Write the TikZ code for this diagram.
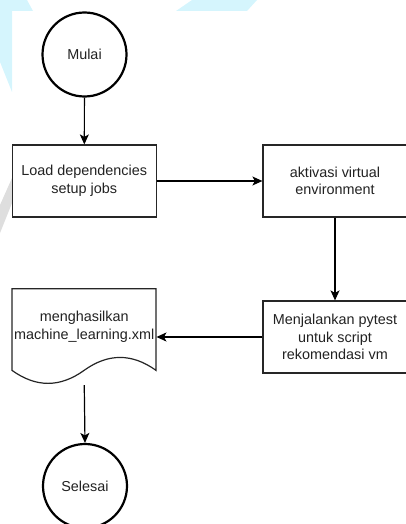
\documentclass[tikz,border=0pt]{standalone}
\usepackage{fontspec}
\setmainfont{Liberation Sans}
\usetikzlibrary{arrows.meta}
\definecolor{marklight}{RGB}{213,245,253}
\definecolor{markgrey}{RGB}{222,222,222}
\definecolor{inktext}{RGB}{34,34,34}
\tikzset{
  base/.style={font=\fontsize{14.4}{17.5}\selectfont, text=inktext, align=center, inner sep=0pt},
  terminal/.style={base, circle, draw=black, line width=2.2pt, fill=white, minimum size=84pt},
  process/.style={base, rectangle, draw=black!85, line width=1.2pt, fill=white,
                  minimum width=144pt, minimum height=72pt},
  docarea/.style={base, rectangle, minimum width=144pt, minimum height=96pt},
  flow/.style={line width=1.2pt, -{Stealth[length=10pt,width=9pt,inset=2.5pt]}}
}
\begin{document}
\begin{tikzpicture}[x=1pt,y=-1pt]
\useasboundingbox (0,0) rectangle (406,524);
% faint watermark shapes behind the chart
\fill[marklight] (0,0) -- (27,0) -- (33,11) -- (12,11) -- (12,92) -- (0,62) -- cycle;
\fill[marklight] (192,0) -- (257,0) -- (247,11) -- (176,11) -- cycle;
\fill[markgrey] (12,178) -- (12,203) -- (0,233) -- (0,205) -- cycle;

% nodes
\node[terminal] (mulai) at (84.5,54.5) {Mulai};
\node[process] (load) at (84.25,181) {Load dependencies\\setup jobs};
\node[process] (venv) at (335,181) {aktivasi virtual\\environment};
\node[process] (pytest) at (335,337) {Menjalankan pytest\\untuk script\\rekomendasi vm};
\node[docarea] (doc) at (84.25,337) {};
\draw[line width=1.2pt, draw=black!85, fill=white, shift={(doc.north west)}]
  (0,0) -- (144,0) -- (144,81.6)
  .. controls (120,64.32) and (96,64.32) .. (72,81.6)
  .. controls (48,98.88) and (24,98.88) .. (0,81.6) -- cycle;
\node[base] (doctext) at (84.25,327) {menghasilkan\\machine\_learning.xml};
\node[terminal] (selesai) at (85,486) {Selesai};

% connectors
\draw[flow] (mulai) -- (load);
\draw[flow] (load) -- (venv);
\draw[flow] (venv.south) -- (pytest.north);
\draw[flow] (pytest.west) -- (doc.east);
\draw[flow] (doc.south) -- (selesai.north);
\end{tikzpicture}
\end{document}
